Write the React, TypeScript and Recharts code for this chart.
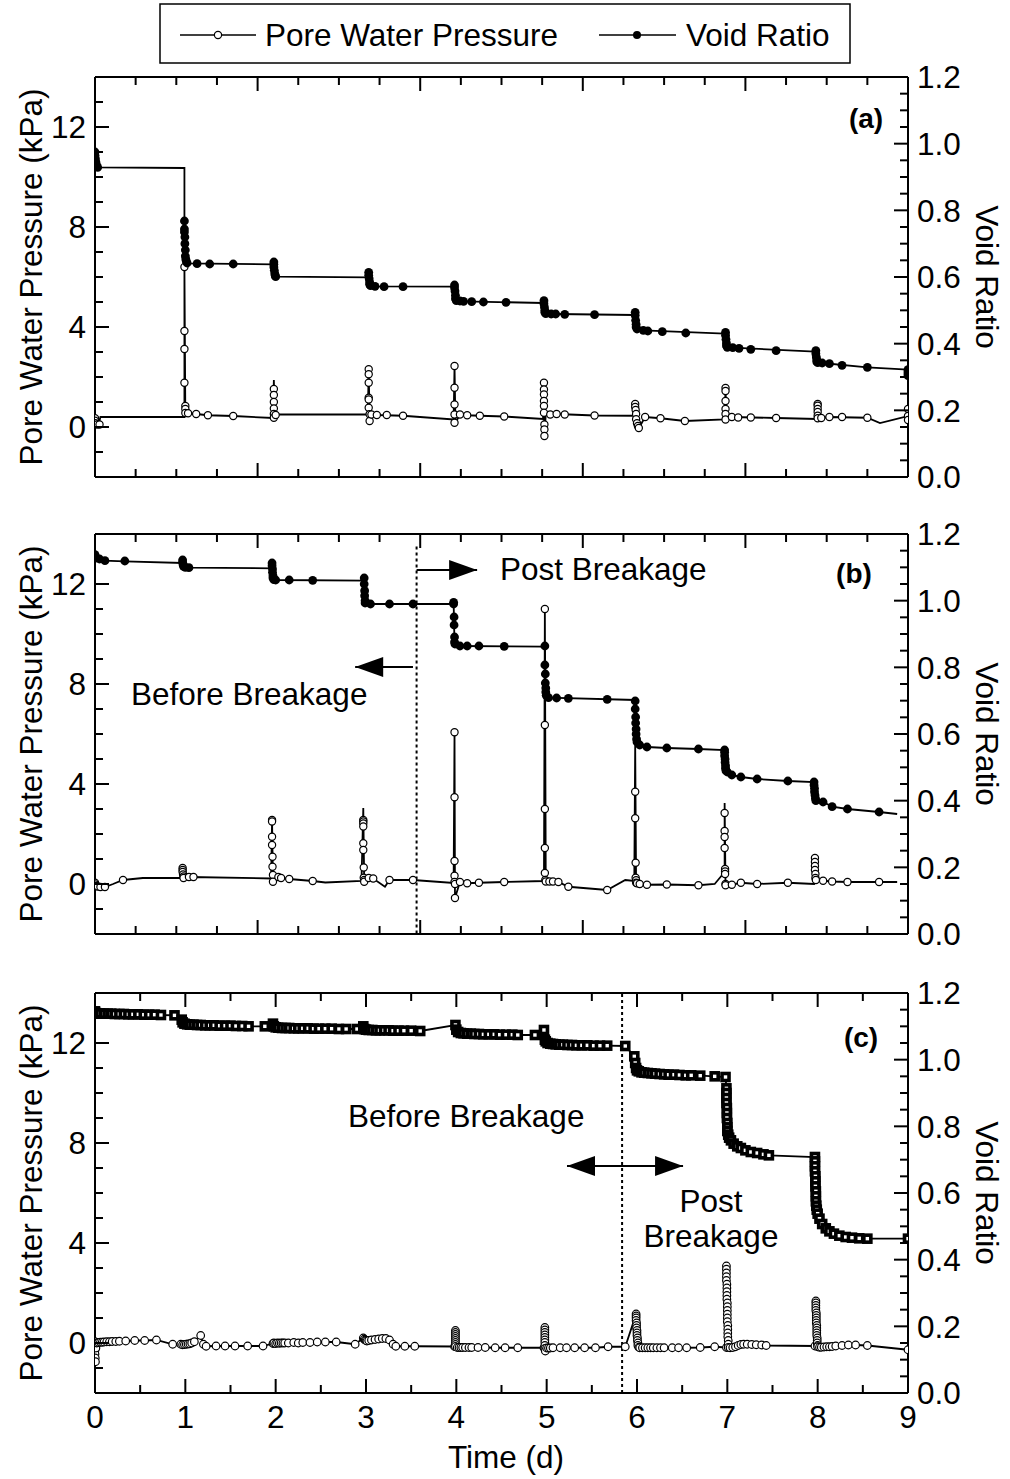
import React from "react";
import { ComposedChart, Line, Scatter, XAxis, YAxis, ReferenceLine } from "recharts";

type Pt = [number, number];

// ---------- axis ticks ----------
const timeTicksAB = [0, 0.45, 0.9, 1.35, 1.8, 2.25, 2.7, 3.15, 3.6, 4.05, 4.5, 4.95, 5.4, 5.85, 6.3, 6.75, 7.2, 7.65, 8.1, 8.55, 9];
const timeMajorsAB = [0, 1.8, 3.6, 5.4, 7.2, 9];
const timeTicksC = [0, 0.5, 1, 1.5, 2, 2.5, 3, 3.5, 4, 4.5, 5, 5.5, 6, 6.5, 7, 7.5, 8, 8.5, 9];
const timeLabelsC = [0, 1, 2, 3, 4, 5, 6, 7, 8, 9];
const pwpTicks = [-2, -1, 0, 1, 2, 3, 4, 5, 6, 7, 8, 9, 10, 11, 12, 13, 14];
const pwpLabels = [0, 4, 8, 12];
const voidTicks = [0, 0.05, 0.1, 0.15, 0.2, 0.25, 0.3, 0.35, 0.4, 0.45, 0.5, 0.55, 0.6, 0.65, 0.7, 0.75, 0.8, 0.85, 0.9, 0.95, 1.0, 1.05, 1.1, 1.15, 1.2];
const voidLabels = [0, 0.2, 0.4, 0.6, 0.8, 1.0, 1.2];

// ---------- panel (a) ----------
const aVoidLine: Pt[] = [
  [0, 0.975], [0.01, 0.95], [0.03, 0.929], [0.99, 0.927], [0.99, 0.77], [1.0, 0.66], [1.02, 0.641],
  [1.97, 0.638], [1.98, 0.645], [1.99, 0.603], [2.01, 0.601], [3.02, 0.599], [3.03, 0.614], [3.04, 0.574],
  [3.1, 0.572], [3.97, 0.571], [3.98, 0.576], [3.99, 0.528], [4.08, 0.527], [4.96, 0.522], [4.97, 0.529],
  [4.98, 0.49], [5.1, 0.489], [5.97, 0.486], [5.98, 0.494], [5.99, 0.444], [6.07, 0.44], [6.97, 0.43],
  [6.98, 0.434], [6.99, 0.389], [7.06, 0.388], [7.97, 0.376], [7.98, 0.379], [7.99, 0.343], [8.05, 0.342],
  [8.55, 0.329], [9.0, 0.322], [9.0, 0.304],
];
const aVoidPts: Pt[] = [
  [0, 0.975], [0, 0.965], [0.005, 0.955], [0.01, 0.945], [0.015, 0.937], [0.02, 0.931], [0.03, 0.929],
  [0.99, 0.768], [0.99, 0.744], [0.99, 0.735], [0.995, 0.72], [0.995, 0.7], [1.0, 0.681], [1.0, 0.663],
  [1.005, 0.654], [1.01, 0.648], [1.02, 0.642], [1.13, 0.64], [1.27, 0.639], [1.53, 0.639],
  [1.98, 0.645], [1.98, 0.638], [1.98, 0.63], [1.985, 0.62], [1.99, 0.61], [1.995, 0.604], [2.0, 0.601],
  [3.03, 0.614], [3.03, 0.605], [3.035, 0.595], [3.04, 0.585], [3.04, 0.578], [3.05, 0.574], [3.1, 0.572],
  [3.2, 0.571], [3.41, 0.571],
  [3.98, 0.576], [3.98, 0.568], [3.985, 0.558], [3.99, 0.545], [3.99, 0.535], [4.0, 0.529], [4.04, 0.528],
  [4.08, 0.527], [4.17, 0.526], [4.3, 0.525], [4.55, 0.524],
  [4.97, 0.529], [4.97, 0.52], [4.975, 0.51], [4.98, 0.5], [4.98, 0.494], [4.99, 0.49], [5.05, 0.489],
  [5.1, 0.489], [5.2, 0.488], [5.53, 0.487],
  [5.98, 0.494], [5.98, 0.485], [5.985, 0.47], [5.99, 0.458], [5.99, 0.45], [6.0, 0.444], [6.07, 0.44],
  [6.12, 0.438], [6.28, 0.436], [6.54, 0.432],
  [6.98, 0.434], [6.98, 0.425], [6.985, 0.413], [6.99, 0.402], [6.99, 0.394], [7.0, 0.389], [7.06, 0.388],
  [7.13, 0.386], [7.26, 0.383], [7.54, 0.379],
  [7.98, 0.379], [7.98, 0.37], [7.985, 0.36], [7.99, 0.352], [7.99, 0.346], [8.0, 0.343], [8.05, 0.342],
  [8.13, 0.34], [8.27, 0.335], [8.55, 0.329],
  [9.0, 0.322], [9.0, 0.316], [9.0, 0.31], [9.0, 0.304],
];
const aPwpLine: Pt[] = [
  [0, 0.35], [0.01, 0.12], [0.04, 0.1], [0.06, 0.4], [0.99, 0.4], [0.99, 6.4], [1.0, 0.55], [1.03, 0.55],
  [1.12, 0.52], [1.25, 0.47], [1.53, 0.44], [1.97, 0.36], [1.98, 1.88], [1.99, 0.37], [2.01, 0.5],
  [3.02, 0.5], [3.03, 2.31], [3.04, 0.24], [3.06, 0.5], [3.12, 0.48], [3.41, 0.45], [3.97, 0.3],
  [3.98, 2.44], [3.99, 0.17], [4.04, 0.5], [4.12, 0.47], [4.26, 0.45], [4.53, 0.42], [4.96, 0.32],
  [4.97, 1.77], [4.975, -0.36], [4.99, 0.5], [5.11, 0.52], [5.53, 0.46], [5.97, 0.45], [5.98, 0.92],
  [6.02, -0.05], [6.09, 0.4], [6.26, 0.35], [6.53, 0.24], [6.97, 0.3], [6.98, 1.56], [6.99, 0.3],
  [7.05, 0.4], [7.54, 0.36], [7.99, 0.32], [8.0, 0.92], [8.01, 0.35], [8.04, 0.36], [8.13, 0.4],
  [8.55, 0.37], [8.69, 0.16], [9.0, 0.44],
];
const aPwpPts: Pt[] = [
  [0, 0.35], [0, 0.25], [0.005, 0.15], [0.02, 0.1], [0.05, 0.1],
  [0.99, 6.4], [0.99, 3.84], [0.99, 3.12], [0.99, 1.77], [1.0, 0.84], [1.0, 0.72], [1.0, 0.56], [1.03, 0.55],
  [1.12, 0.52], [1.25, 0.47], [1.53, 0.44],
  [1.98, 1.52], [1.98, 1.28], [1.98, 1.0], [1.98, 0.74], [1.98, 0.52], [1.98, 0.37], [2.0, 0.48],
  [3.03, 2.31], [3.03, 2.11], [3.03, 1.77], [3.03, 1.17], [3.03, 1.1], [3.03, 0.77], [3.04, 0.51],
  [3.04, 0.24], [3.06, 0.5], [3.12, 0.48], [3.23, 0.48], [3.41, 0.45],
  [3.98, 2.44], [3.98, 1.57], [3.98, 0.9], [3.98, 0.5], [3.98, 0.17], [4.04, 0.5], [4.12, 0.47],
  [4.26, 0.45], [4.53, 0.42],
  [4.97, 1.77], [4.97, 1.5], [4.97, 1.3], [4.97, 1.04], [4.97, 0.84], [4.97, 0.57], [4.975, 0.1],
  [4.975, -0.1], [4.975, -0.36], [5.04, 0.5], [5.11, 0.52], [5.2, 0.5], [5.53, 0.46],
  [5.98, 0.92], [5.98, 0.8], [5.985, 0.68], [5.99, 0.52], [5.99, 0.31], [6.0, 0.15], [6.01, 0.04],
  [6.02, -0.04], [6.09, 0.4], [6.26, 0.35], [6.53, 0.24],
  [6.98, 1.56], [6.98, 1.44], [6.98, 1.04], [6.98, 0.72], [6.98, 0.52], [6.98, 0.3], [7.05, 0.4],
  [7.12, 0.38], [7.26, 0.38], [7.54, 0.36],
  [8.0, 0.92], [8.0, 0.85], [8.0, 0.72], [8.0, 0.6], [8.0, 0.45], [8.0, 0.35], [8.04, 0.36], [8.13, 0.4],
  [8.27, 0.4], [8.55, 0.37],
  [9.0, 0.72], [9.0, 0.44], [9.0, 0.28],
];

// ---------- panel (b) ----------
const bVoidLine: Pt[] = [
  [0, 1.138], [0.1, 1.12], [0.33, 1.118], [0.97, 1.113], [0.97, 1.122], [0.98, 1.101], [1.04, 1.099],
  [1.96, 1.097], [1.96, 1.113], [1.97, 1.063], [2.0, 1.062], [2.98, 1.06], [2.98, 1.068], [2.99, 0.993],
  [3.05, 0.99], [3.97, 0.99], [3.97, 0.995], [3.98, 0.868], [4.04, 0.864], [4.97, 0.862], [4.98, 0.864],
  [4.99, 0.712], [5.02, 0.709], [5.98, 0.702], [5.99, 0.572], [6.03, 0.567], [6.11, 0.561], [6.33, 0.558],
  [6.68, 0.555], [6.97, 0.552], [6.98, 0.49], [7.05, 0.477], [7.15, 0.471], [7.33, 0.465], [7.67, 0.459],
  [7.96, 0.456], [7.98, 0.4], [8.06, 0.396], [8.16, 0.382], [8.33, 0.375], [8.68, 0.366], [8.88, 0.36],
];
const bVoidPts: Pt[] = [
  [0, 1.138], [0.005, 1.132], [0.01, 1.128], [0.05, 1.125], [0.11, 1.12], [0.33, 1.119],
  [0.97, 1.122], [0.97, 1.115], [0.975, 1.108], [0.98, 1.103], [1.0, 1.1], [1.04, 1.099],
  [1.96, 1.113], [1.96, 1.105], [1.965, 1.095], [1.965, 1.085], [1.97, 1.075], [1.97, 1.068], [1.98, 1.063],
  [2.0, 1.062], [2.15, 1.062], [2.41, 1.061],
  [2.98, 1.068], [2.98, 1.05], [2.985, 1.03], [2.985, 1.015], [2.99, 1.0], [2.99, 0.993], [3.05, 0.99],
  [3.26, 0.99], [3.52, 0.99],
  [3.97, 0.995], [3.97, 0.99], [3.975, 0.951], [3.975, 0.927], [3.98, 0.891], [3.98, 0.876], [3.985, 0.87],
  [4.04, 0.864], [4.12, 0.864], [4.25, 0.864], [4.53, 0.863],
  [4.98, 0.864], [4.98, 0.807], [4.985, 0.78], [4.985, 0.753], [4.99, 0.738], [4.99, 0.726], [4.995, 0.716],
  [5.02, 0.709], [5.11, 0.708], [5.24, 0.707], [5.67, 0.704],
  [5.98, 0.699], [5.98, 0.675], [5.985, 0.651], [5.985, 0.633], [5.99, 0.615], [5.99, 0.6], [5.995, 0.585],
  [6.0, 0.576], [6.03, 0.567], [6.11, 0.561], [6.33, 0.558], [6.68, 0.555],
  [6.97, 0.552], [6.97, 0.545], [6.97, 0.535], [6.975, 0.525], [6.975, 0.515], [6.98, 0.505], [6.98, 0.497],
  [6.985, 0.49], [7.0, 0.486], [7.05, 0.477], [7.15, 0.471], [7.33, 0.465], [7.67, 0.459],
  [7.96, 0.456], [7.96, 0.447], [7.965, 0.437], [7.965, 0.427], [7.97, 0.417], [7.975, 0.407], [7.98, 0.4],
  [8.06, 0.396], [8.16, 0.382], [8.33, 0.375], [8.68, 0.366],
];
const bPwpLine: Pt[] = [
  [0, 0.05], [0.02, -0.1], [0.11, -0.12], [0.2, 0.0], [0.31, 0.16], [0.53, 0.24], [0.97, 0.24], [0.97, 0.64],
  [0.98, 0.24], [1.04, 0.28], [1.95, 0.22], [1.96, 2.56], [1.97, 0.09], [2.03, 0.28], [2.06, 0.24],
  [2.15, 0.2], [2.41, 0.12], [2.55, 0.06], [2.95, 0.12], [2.97, 3.04], [2.98, 0.09], [3.03, 0.24],
  [3.08, 0.22], [3.21, -0.11], [3.26, 0.16], [3.52, 0.16], [3.97, 0.04], [3.98, 6.07], [3.985, -0.56],
  [4.04, 0.08], [4.12, 0.03], [4.25, 0.05], [4.53, 0.08], [4.97, 0.12], [4.98, 11.0], [4.99, 0.1],
  [5.07, 0.1], [5.13, 0.08], [5.24, -0.11], [5.67, -0.24], [5.87, 0.16], [5.97, 0.12], [5.98, 5.6],
  [5.99, 0.03], [6.03, 0.0], [6.11, -0.03], [6.33, -0.02], [6.68, -0.05], [6.86, 0.0], [6.97, 0.48],
  [6.97, 3.24], [6.98, -0.05], [7.05, -0.03], [7.15, 0.05], [7.33, 0.0], [7.67, 0.05], [7.96, 0.0],
  [7.97, 1.04], [7.98, 0.16], [8.06, 0.13], [8.16, 0.1], [8.33, 0.08], [8.68, 0.08], [8.88, 0.08],
];
const bPwpPts: Pt[] = [
  [0, 0.05], [0.005, -0.02], [0.01, -0.08], [0.03, -0.1], [0.06, -0.12], [0.11, -0.12], [0.31, 0.16],
  [0.97, 0.64], [0.97, 0.56], [0.97, 0.48], [0.975, 0.38], [0.98, 0.3], [0.98, 0.24], [1.04, 0.28], [1.09, 0.28],
  [1.96, 2.56], [1.96, 2.5], [1.96, 1.89], [1.96, 1.56], [1.965, 1.09], [1.965, 0.69], [1.97, 0.36],
  [1.97, 0.09], [2.03, 0.28], [2.06, 0.24], [2.15, 0.2], [2.41, 0.12],
  [2.97, 2.56], [2.97, 2.5], [2.97, 2.42], [2.97, 2.3], [2.97, 1.63], [2.97, 1.36], [2.975, 0.66],
  [2.975, 0.25], [2.98, 0.16], [2.98, 0.09], [3.03, 0.24], [3.08, 0.22], [3.26, 0.16], [3.52, 0.16],
  [3.98, 6.07], [3.98, 3.47], [3.98, 0.92], [3.98, 0.33], [3.98, 0.08], [3.985, 0.0], [3.985, -0.56],
  [4.04, 0.08], [4.12, 0.03], [4.25, 0.05], [4.53, 0.08],
  [4.98, 11.0], [4.98, 6.36], [4.98, 3.0], [4.98, 1.44], [4.98, 0.44], [4.985, 0.16], [4.99, 0.1],
  [5.03, 0.1], [5.07, 0.1], [5.13, 0.08], [5.24, -0.11], [5.67, -0.24],
  [5.98, 3.69], [5.98, 2.63], [5.985, 0.85], [5.985, 0.25], [5.99, 0.15], [5.99, 0.05], [6.0, 0.03],
  [6.03, 0.0], [6.11, -0.03], [6.33, -0.02], [6.68, -0.05],
  [6.97, 2.84], [6.97, 2.12], [6.97, 1.88], [6.97, 1.44], [6.975, 0.6], [6.975, 0.5], [6.975, 0.4],
  [6.98, 0.0], [6.98, -0.05], [7.05, -0.03], [7.15, 0.05], [7.33, 0.0], [7.67, 0.05],
  [7.97, 1.04], [7.97, 0.88], [7.97, 0.72], [7.97, 0.56], [7.975, 0.4], [7.975, 0.24], [7.98, 0.16],
  [8.06, 0.13], [8.16, 0.1], [8.33, 0.08], [8.68, 0.08],
];

// ---------- panel (c) : every logged point is a marker ----------
const cVoid: Pt[] = [
  [0, 1.145], [0.01, 1.14], [0.03, 1.139], [0.06, 1.139], [0.1, 1.138], [0.14, 1.138], [0.18, 1.138],
  [0.22, 1.137], [0.27, 1.137], [0.32, 1.137], [0.37, 1.136], [0.42, 1.136], [0.48, 1.136], [0.54, 1.135],
  [0.6, 1.135], [0.66, 1.135], [0.73, 1.134], [0.88, 1.133],
  [0.96, 1.12], [0.97, 1.112], [0.99, 1.108], [1.02, 1.106], [1.05, 1.105], [1.09, 1.105], [1.13, 1.104],
  [1.17, 1.104], [1.22, 1.103], [1.27, 1.103], [1.32, 1.103], [1.38, 1.102], [1.44, 1.102], [1.5, 1.102],
  [1.56, 1.101], [1.63, 1.101], [1.7, 1.1], [1.88, 1.1],
  [1.97, 1.108], [1.98, 1.1], [2.0, 1.097], [2.03, 1.096], [2.07, 1.095], [2.11, 1.095], [2.15, 1.095],
  [2.2, 1.094], [2.25, 1.094], [2.3, 1.094], [2.36, 1.094], [2.42, 1.093], [2.48, 1.093], [2.55, 1.093],
  [2.62, 1.093], [2.7, 1.092], [2.78, 1.092], [2.9, 1.092],
  [2.97, 1.1], [2.98, 1.092], [3.0, 1.09], [3.03, 1.089], [3.07, 1.089], [3.11, 1.088], [3.15, 1.088],
  [3.2, 1.088], [3.25, 1.088], [3.3, 1.087], [3.36, 1.087], [3.42, 1.087], [3.5, 1.087], [3.6, 1.086],
  [3.99, 1.104], [4.0, 1.09], [4.02, 1.083], [4.05, 1.08], [4.08, 1.079], [4.12, 1.078], [4.16, 1.078],
  [4.2, 1.077], [4.25, 1.077], [4.3, 1.076], [4.36, 1.076], [4.42, 1.076], [4.48, 1.075], [4.55, 1.075],
  [4.62, 1.075], [4.68, 1.074], [4.87, 1.074],
  [4.97, 1.089], [4.98, 1.06], [4.99, 1.055], [5.01, 1.05], [5.04, 1.048], [5.07, 1.047], [5.1, 1.046],
  [5.14, 1.045], [5.18, 1.045], [5.23, 1.044], [5.28, 1.044], [5.33, 1.043], [5.39, 1.043], [5.45, 1.043],
  [5.52, 1.042], [5.59, 1.042], [5.67, 1.042], [5.87, 1.041],
  [5.97, 1.01], [5.98, 0.99], [5.99, 0.975], [6.0, 0.968], [6.02, 0.965], [6.05, 0.962], [6.08, 0.961],
  [6.12, 0.96], [6.16, 0.959], [6.2, 0.958], [6.25, 0.957], [6.3, 0.956], [6.35, 0.955], [6.41, 0.955],
  [6.47, 0.954], [6.54, 0.953], [6.6, 0.953], [6.7, 0.952], [6.86, 0.95], [6.98, 0.948],
  [6.99, 0.914], [6.99, 0.9], [6.99, 0.885], [6.99, 0.87], [6.995, 0.855], [6.995, 0.84], [6.995, 0.825],
  [7.0, 0.81], [7.0, 0.797], [7.0, 0.786], [7.01, 0.775], [7.02, 0.766], [7.04, 0.758], [7.07, 0.748],
  [7.11, 0.74], [7.15, 0.735], [7.2, 0.728], [7.26, 0.723], [7.33, 0.72], [7.4, 0.716], [7.46, 0.713],
  [7.97, 0.708], [7.97, 0.695], [7.97, 0.68], [7.97, 0.665], [7.975, 0.65], [7.975, 0.635], [7.975, 0.62],
  [7.98, 0.605], [7.98, 0.59], [7.98, 0.575], [7.985, 0.562], [7.99, 0.55], [8.0, 0.538], [8.02, 0.523],
  [8.05, 0.507], [8.09, 0.494], [8.13, 0.485], [8.18, 0.478], [8.24, 0.472], [8.31, 0.468], [8.38, 0.466],
  [8.46, 0.464], [8.55, 0.463],
  [9.0, 0.463],
];
const cPwp: Pt[] = [
  [0, 0.05], [0, -0.12], [0, -0.28], [0, -0.44], [0.003, -0.6], [0.005, -0.75], [0.01, -0.2], [0.02, 0.0],
  [0.04, 0.02], [0.06, 0.03], [0.08, 0.03], [0.1, 0.04], [0.13, 0.05], [0.16, 0.05], [0.19, 0.06],
  [0.23, 0.06], [0.27, 0.07], [0.34, 0.08], [0.44, 0.1], [0.55, 0.1], [0.68, 0.12], [0.86, -0.05],
  [0.95, -0.05], [0.97, -0.07], [0.99, -0.06], [1.01, -0.05], [1.03, -0.04], [1.05, -0.03], [1.07, 0.0],
  [1.1, 0.05], [1.17, 0.3], [1.2, -0.05], [1.23, -0.13], [1.34, -0.12], [1.44, -0.12], [1.55, -0.12],
  [1.69, -0.12], [1.86, -0.12],
  [1.97, -0.02], [1.98, 0.0], [2.0, -0.02], [2.02, 0.0], [2.04, -0.01], [2.06, 0.0], [2.08, 0.0], [2.1, 0.0],
  [2.14, 0.0], [2.2, 0.02], [2.25, 0.0], [2.3, 0.02], [2.38, 0.02], [2.46, 0.04], [2.55, 0.04], [2.67, 0.04],
  [2.88, -0.05],
  [2.97, 0.2], [2.98, 0.15], [2.99, 0.12], [3.0, 0.1], [3.01, 0.08], [3.03, 0.1], [3.06, 0.12], [3.1, 0.14],
  [3.14, 0.16], [3.18, 0.18], [3.22, 0.18], [3.26, 0.12], [3.3, -0.05], [3.33, -0.13], [3.43, -0.13],
  [3.54, -0.13],
  [3.98, -0.14], [3.99, 0.5], [3.99, 0.42], [3.99, 0.34], [3.99, 0.26], [3.99, 0.18], [3.99, 0.1],
  [3.99, 0.02], [3.99, -0.06], [3.99, -0.14], [4.01, -0.18], [4.03, -0.18], [4.05, -0.18], [4.07, -0.18],
  [4.1, -0.18], [4.14, -0.18], [4.17, -0.18], [4.24, -0.18], [4.32, -0.18], [4.43, -0.19], [4.54, -0.19],
  [4.68, -0.19],
  [4.97, -0.19], [4.98, 0.62], [4.98, 0.52], [4.98, 0.42], [4.98, 0.32], [4.98, 0.22], [4.98, 0.12],
  [4.98, 0.02], [4.98, -0.1], [4.98, -0.22], [4.985, -0.32], [5.0, -0.2], [5.02, -0.2], [5.04, -0.2],
  [5.07, -0.19], [5.15, -0.19], [5.22, -0.19], [5.31, -0.19], [5.42, -0.19], [5.54, -0.19], [5.68, -0.15],
  [5.87, -0.15],
  [5.99, 1.16], [5.99, 1.08], [5.99, 1.0], [5.99, 0.9], [5.995, 0.8], [5.995, 0.7], [5.995, 0.6], [6.0, 0.5],
  [6.0, 0.4], [6.0, 0.3], [6.005, 0.2], [6.005, 0.1], [6.01, 0.0], [6.01, -0.1], [6.02, -0.17], [6.03, -0.19],
  [6.06, -0.19], [6.09, -0.19], [6.12, -0.19], [6.15, -0.19], [6.18, -0.19], [6.22, -0.19], [6.26, -0.19],
  [6.3, -0.19], [6.39, -0.19], [6.46, -0.19], [6.55, -0.19], [6.7, -0.18], [6.86, -0.15],
  [6.99, -0.18], [6.99, 3.08], [6.99, 2.95], [6.99, 2.8], [6.99, 2.65], [6.99, 2.5], [6.995, 2.35],
  [6.995, 2.2], [6.995, 2.05], [6.995, 1.9], [6.995, 1.75], [7.0, 1.6], [7.0, 1.45], [7.0, 1.3], [7.0, 1.15],
  [7.0, 1.0], [7.0, 0.85], [7.005, 0.7], [7.005, 0.55], [7.005, 0.4], [7.005, 0.25], [7.01, 0.1],
  [7.01, -0.05], [7.01, -0.18], [7.03, -0.19], [7.06, -0.18], [7.09, -0.15], [7.12, -0.1], [7.15, -0.06],
  [7.18, -0.05], [7.22, -0.05], [7.27, -0.06], [7.32, -0.07], [7.38, -0.08], [7.43, -0.1],
  [7.97, -0.12], [7.98, 1.68], [7.98, 1.6], [7.98, 1.5], [7.98, 1.4], [7.98, 1.3], [7.985, 1.2],
  [7.985, 1.1], [7.985, 1.0], [7.985, 0.9], [7.985, 0.8], [7.99, 0.7], [7.99, 0.6], [7.99, 0.5], [7.99, 0.4],
  [7.99, 0.3], [7.995, 0.2], [7.995, 0.1], [7.995, 0.0], [8.0, -0.1], [8.0, -0.15], [8.02, -0.17],
  [8.04, -0.17], [8.07, -0.16], [8.1, -0.15], [8.13, -0.15], [8.16, -0.14], [8.2, -0.12], [8.27, -0.1],
  [8.34, -0.08], [8.42, -0.08], [8.55, -0.1],
  [9.0, -0.27],
];

// ---------- helpers ----------
const FONT = "'Liberation Sans', Arial, Helvetica, sans-serif";
const FS = 31.5;
const rows = (a: Pt[]) => a.map(([t, v]) => ({ t, v }));
const near = (v: number, list: number[]) => list.some((m) => Math.abs(m - v) < 1e-6);
const AX = { stroke: "#000", strokeWidth: 2 };

const bottomTick = (majors: number[], labels: number[]) => (p: any) => {
  const { x, y, payload } = p;
  const major = near(payload.value, majors);
  return (
    <g>
      <line x1={x} x2={x} y1={y} y2={y - (major ? 14 : 8)} stroke="#000" strokeWidth={2} />
      {near(payload.value, labels) && (
        <text x={x} y={y + 35} textAnchor="middle" fontSize={FS} fontFamily={FONT} fill="#000">
          {payload.value}
        </text>
      )}
    </g>
  );
};
const topTick = (majors: number[]) => (p: any) => {
  const { x, y, payload } = p;
  const major = near(payload.value, majors);
  return <line x1={x} x2={x} y1={y} y2={y + (major ? 14 : 8)} stroke="#000" strokeWidth={2} />;
};
const leftTick = (p: any) => {
  const { x, y, payload } = p;
  const major = near(payload.value, pwpLabels);
  return (
    <g>
      <line x1={x} x2={x + (major ? 14 : 8)} y1={y} y2={y} stroke="#000" strokeWidth={2} />
      {major && (
        <text x={x - 9} y={y} dy="0.36em" textAnchor="end" fontSize={FS} fontFamily={FONT} fill="#000">
          {payload.value}
        </text>
      )}
    </g>
  );
};
const rightTick = (p: any) => {
  const { x, y, payload } = p;
  const major = near(payload.value, voidLabels);
  return (
    <g>
      <line x1={x} x2={x - (major ? 14 : 8)} y1={y} y2={y} stroke="#000" strokeWidth={2} />
      {major && (
        <text x={x + 9} y={y} dy="0.36em" textAnchor="start" fontSize={FS} fontFamily={FONT} fill="#000">
          {payload.value.toFixed(1)}
        </text>
      )}
    </g>
  );
};

const openCircle = (r: number) => (p: any) => (
  <circle cx={p.cx} cy={p.cy} r={r} fill="#fff" stroke="#000" strokeWidth={1.2} />
);
const filledCircle = (p: any) => <circle cx={p.cx} cy={p.cy} r={4.4} fill="#000" />;
const openSquare = (p: any) => (
  <rect x={p.cx - 3.5} y={p.cy - 3.5} width={7} height={7} fill="#fff" stroke="#000" strokeWidth={3.6} />
);

const arrowShape = (both: boolean) => (p: any) => {
  const { x1, y1, x2, y2 } = p;
  const head = (tx: number, ty: number, dir: number) => (
    <polygon points={`${tx},${ty} ${tx - dir * 28},${ty - 10} ${tx - dir * 28},${ty + 10}`} fill="#000" />
  );
  return (
    <g>
      <line x1={x1} y1={y1} x2={x2} y2={y2} stroke="#000" strokeWidth={2} />
      {head(x2, y2, Math.sign(x2 - x1))}
      {both && head(x1, y1, Math.sign(x1 - x2))}
    </g>
  );
};

const axes = (xTicks: number[], xMajors: number[], xLabels: number[]) => [
  <XAxis key="xb" xAxisId="b" type="number" dataKey="t" domain={[0, 9]} ticks={xTicks} interval={0}
    tick={bottomTick(xMajors, xLabels)} tickLine={false} tickSize={0} tickMargin={0} axisLine={AX}
    height={1} allowDataOverflow />,
  <XAxis key="xt" xAxisId="top" orientation="top" type="number" dataKey="t" domain={[0, 9]} ticks={xTicks}
    interval={0} tick={topTick(xMajors)} tickLine={false} tickSize={0} tickMargin={0} axisLine={AX}
    height={1} allowDataOverflow />,
  <YAxis key="yp" yAxisId="p" orientation="left" type="number" domain={[-2, 14]} ticks={pwpTicks}
    interval={0} tick={leftTick} tickLine={false} tickSize={0} tickMargin={0} axisLine={AX} width={60}
    allowDataOverflow />,
  <YAxis key="ye" yAxisId="e" orientation="right" type="number" domain={[0, 1.2]} ticks={voidTicks}
    interval={0} tick={rightTick} tickLine={false} tickSize={0} tickMargin={0} axisLine={AX} width={60}
    allowDataOverflow />,
];

const seriesLine = (key: string, data: Pt[], yId: string) => (
  <Line key={key} xAxisId="b" yAxisId={yId} data={rows(data)} dataKey="v" type="linear" stroke="#000"
    strokeWidth={1.8} dot={false} activeDot={false} isAnimationActive={false} />
);
const seriesMarks = (key: string, data: Pt[], yId: string, shape: any) => (
  <Scatter key={key} xAxisId="b" yAxisId={yId} data={rows(data)} dataKey="v" shape={shape}
    isAnimationActive={false} />
);

const margins = (top: number, bottom: number) => ({ top, bottom, left: 35, right: 42 });

export default function App() {
  return (
    <div style={{ position: "absolute", left: 0, top: 0, width: 1010, height: 1479, background: "#fff" }}>
      {/* (a) */}
      <div style={{ position: "absolute", left: 0, top: 0 }}>
        <ComposedChart width={1010} height={500} margin={margins(76, 22)}>
          {axes(timeTicksAB, timeMajorsAB, [])}
          {seriesLine("apl", aPwpLine, "p")}
          {seriesLine("avl", aVoidLine, "e")}
          {seriesMarks("apm", aPwpPts, "p", openCircle(3.6))}
          {seriesMarks("avm", aVoidPts, "e", filledCircle)}
        </ComposedChart>
      </div>
      {/* (b) */}
      <div style={{ position: "absolute", left: 0, top: 490 }}>
        <ComposedChart width={1010} height={470} margin={margins(43, 25)}>
          {axes(timeTicksAB, timeMajorsAB, [])}
          <ReferenceLine xAxisId="b" yAxisId="p" segment={[{ x: 3.56, y: 13.5 }, { x: 3.56, y: -2 }]}
            stroke="#000" strokeWidth={2} strokeDasharray="3 3" />
          <ReferenceLine xAxisId="b" yAxisId="p" segment={[{ x: 3.56, y: 12.56 }, { x: 4.23, y: 12.56 }]}
            shape={arrowShape(false)} />
          <ReferenceLine xAxisId="b" yAxisId="p" segment={[{ x: 3.52, y: 8.68 }, { x: 2.88, y: 8.68 }]}
            shape={arrowShape(false)} />
          {seriesLine("bpl", bPwpLine, "p")}
          {seriesLine("bvl", bVoidLine, "e")}
          {seriesMarks("bpm", bPwpPts, "p", openCircle(3.6))}
          {seriesMarks("bvm", bVoidPts, "e", filledCircle)}
        </ComposedChart>
      </div>
      {/* (c) */}
      <div style={{ position: "absolute", left: 0, top: 950 }}>
        <ComposedChart width={1010} height={529} margin={margins(42, 85)}>
          {axes(timeTicksC, timeLabelsC, timeLabelsC)}
          <ReferenceLine xAxisId="b" yAxisId="p" x={5.835} stroke="#000" strokeWidth={2} strokeDasharray="3 3" />
          <ReferenceLine xAxisId="b" yAxisId="p" segment={[{ x: 5.225, y: 7.08 }, { x: 6.51, y: 7.08 }]}
            shape={arrowShape(true)} />
          {seriesLine("cpl", cPwp, "p")}
          {seriesLine("cvl", cVoid, "e")}
          {seriesMarks("cpm", cPwp, "p", openCircle(3.8))}
          {seriesMarks("cvm", cVoid, "e", openSquare)}
        </ComposedChart>
      </div>

      {/* text layer: legend, titles, annotations */}
      <svg width={1010} height={1479} style={{ position: "absolute", left: 0, top: 0, pointerEvents: "none" }}
        fontFamily={FONT} fill="#000">
        <rect x={160} y={4} width={690} height={59} fill="#fff" stroke="#000" strokeWidth={1.5} />
        <line x1={180} x2={256} y1={35} y2={35} stroke="#000" strokeWidth={1.6} />
        <circle cx={218} cy={35} r={3.6} fill="#fff" stroke="#000" strokeWidth={1.2} />
        <text x={265} y={46} fontSize={FS}>Pore Water Pressure</text>
        <line x1={599} x2={676} y1={35} y2={35} stroke="#000" strokeWidth={1.6} />
        <circle cx={637} cy={35} r={4} fill="#000" />
        <text x={686} y={46} fontSize={FS}>Void Ratio</text>

        {[277, 734, 1193].map((cy) => (
          <g key={cy}>
            <text transform={`translate(31, ${cy}) rotate(-90)`} textAnchor="middle" dy="0.36em" fontSize={FS}>
              Pore Water Pressure (kPa)
            </text>
            <text transform={`translate(987, ${cy}) rotate(90)`} textAnchor="middle" dy="0.36em" fontSize={FS}>
              Void Ratio
            </text>
          </g>
        ))}

        <text x={866} y={118} dy="0.36em" textAnchor="middle" fontSize={28} fontWeight="bold">(a)</text>
        <text x={854} y={573} dy="0.36em" textAnchor="middle" fontSize={28} fontWeight="bold">(b)</text>
        <text x={861} y={1037} dy="0.36em" textAnchor="middle" fontSize={28} fontWeight="bold">(c)</text>

        <text x={500} y={580} fontSize={FS}>Post Breakage</text>
        <text x={131} y={705} fontSize={FS}>Before Breakage</text>
        <text x={348} y={1127} fontSize={FS}>Before Breakage</text>
        <text x={711} y={1212} textAnchor="middle" fontSize={FS}>Post</text>
        <text x={711} y={1247} textAnchor="middle" fontSize={FS}>Breakage</text>

        <text x={506} y={1468} textAnchor="middle" fontSize={FS}>Time (d)</text>
      </svg>
    </div>
  );
}
